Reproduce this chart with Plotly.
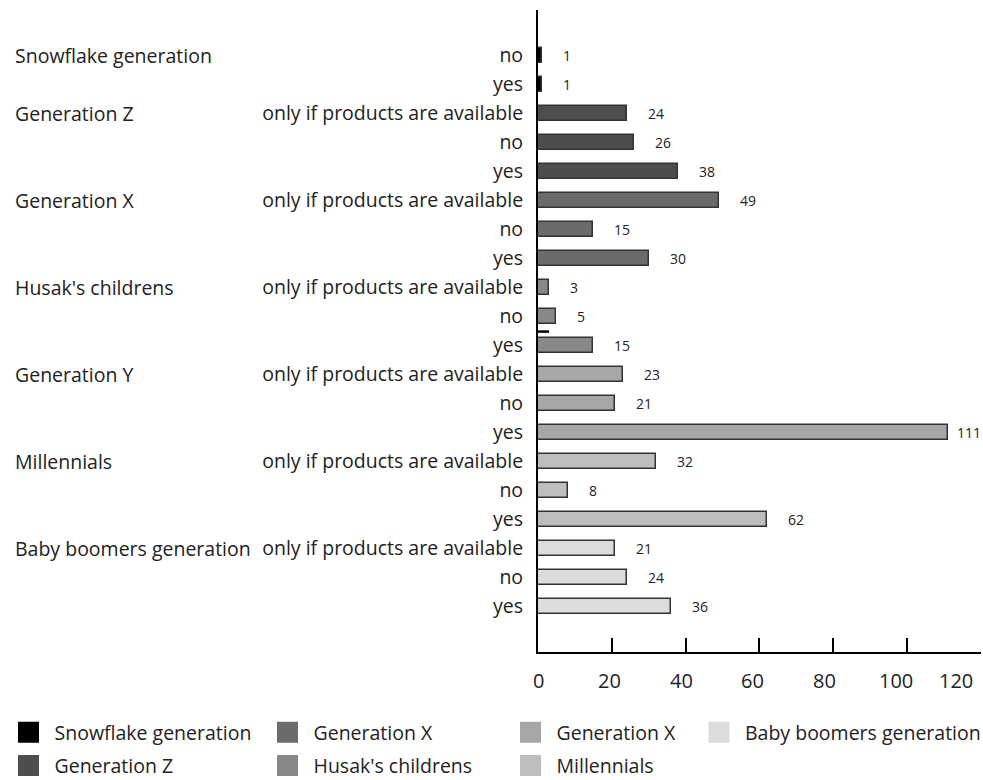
import plotly.graph_objects as go

# Survey answers per generation (rows top to bottom)
groups = ["Snowflake generation", "Generation Z", "Generation X", "Husak's childrens",
          "Generation Y", "Millennials", "Baby boomers generation"]
legend_names = ["Snowflake generation", "Generation Z", "Generation X", "Husak's childrens",
                "Generation X", "Millennials", "Baby boomers generation"]
answers_short = ["no", "yes"]
answers_full = ["only if products are available", "no", "yes"]

snowflake = [1, 1]
gen_z = [24, 26, 38]
gen_x = [49, 15, 30]
husak = [3, 5, 15]
gen_y = [23, 21, 111]
millennials = [32, 8, 62]
boomers = [21, 24, 36]

x_ticks = [0, 20, 40, 60, 80, 100, 120]

series = [snowflake, gen_z, gen_x, husak, gen_y, millennials, boomers]
colors = ["#000000", "#4d4d4f", "#6b6b6e", "#888889", "#a7a7a9", "#bdbdbe", "#dcdcde"]

FONT = "Open Sans"
TEXT = "#222222"
LABEL_SIZE = 19.5
W, H = 983, 780

fig = go.Figure()

row = 0
tickvals, ticktext = [], []
annotations = []
for g, vals, col in zip(groups, series, colors):
    answers = answers_short if len(vals) == 2 else answers_full
    ys = list(range(row, row + len(vals)))
    tickvals += ys
    ticktext += answers
    fig.add_trace(go.Bar(
        x=vals, y=ys, orientation="h", width=0.52,
        marker=dict(color=col, line=dict(color="#333333", width=1.5)),
        showlegend=False, legendgroup=g, hoverinfo="x+y",
    ))
    # group label beside its first row
    annotations.append(dict(
        x=-1.1851, xref="paper", y=ys[0], yref="y", text=g, showarrow=False,
        xanchor="left", yanchor="middle", font=dict(family=FONT, size=LABEL_SIZE, color=TEXT),
    ))
    # value labels right of each bar
    for v, y in zip(vals, ys):
        annotations.append(dict(
            x=v, y=y, xref="x", yref="y", text=str(v), showarrow=False,
            xanchor="left", yanchor="middle", xshift=7 if v > 105 else 19,
            font=dict(family=FONT, size=14, color=TEXT),
        ))
    row += len(vals)

n_rows = row

# x tick labels, kept inside the page at the right end
for t in x_ticks:
    last = t == x_ticks[-1]
    annotations.append(dict(
        x=t, y=0, xref="x", yref="paper", text=str(t), showarrow=False,
        xanchor="right" if last else "center", yanchor="top",
        xshift=-6 if last else -0.11 * t, yshift=-13,
        font=dict(family=FONT, size=20, color=TEXT),
    ))

# legend entries, arranged in four columns
legend_cols = [[0, 1], [2, 3], [4, 5], [6]]
legend_keys = ["legend", "legend2", "legend3", "legend4"]
for key, idxs in zip(legend_keys, legend_cols):
    for i in idxs:
        fig.add_trace(go.Scatter(
            x=[None], y=[None], mode="markers", name=legend_names[i],
            marker=dict(symbol="square", size=16, color=colors[i],
                        line=dict(color=colors[i], width=5)),
            legend=key, legendgroup=groups[i], showlegend=True,
        ))

legend_left_px = [2.5, 261.5, 504.5, 693]
legend_style = dict(
    orientation="v", xref="container", yref="container",
    yanchor="top", xanchor="left", y=1 - 713 / H, itemwidth=42,
    font=dict(family=FONT, size=LABEL_SIZE, color=TEXT), bgcolor="rgba(0,0,0,0)",
    tracegroupgap=5, itemclick=False, itemdoubleclick=False,
)
layout_legends = {k: dict(x=px / W, **legend_style) for k, px in zip(legend_keys, legend_left_px)}

fig.update_layout(
    width=W, height=H,
    margin=dict(l=538, r=2, t=10, b=128, autoexpand=False),
    plot_bgcolor="white", paper_bgcolor="white",
    font=dict(family=FONT, color=TEXT),
    bargap=0, showlegend=True,
    annotations=annotations,
    shapes=[dict(type="line", xref="x", yref="y", x0=0, x1=3, y0=9.52, y1=9.52,
                 line=dict(color="#000000", width=2.5))],
    xaxis=dict(
        range=[0, 120.05], tickvals=x_ticks, showticklabels=False, automargin=False,
        showgrid=False, zeroline=False, showline=True, linecolor="#000000", linewidth=2,
        ticks="inside", ticklen=14, tickwidth=2, tickcolor="#000000",
    ),
    yaxis=dict(
        range=[n_rows - 1 + 1.57, -1.57], tickvals=tickvals, ticktext=ticktext, automargin=False,
        showgrid=False, zeroline=False, showline=True, linecolor="#000000", linewidth=2,
        ticks="", tickfont=dict(family=FONT, size=LABEL_SIZE, color=TEXT), ticklabelstandoff=9,
    ),
    **layout_legends,
)

fig.write_html("out.html")
